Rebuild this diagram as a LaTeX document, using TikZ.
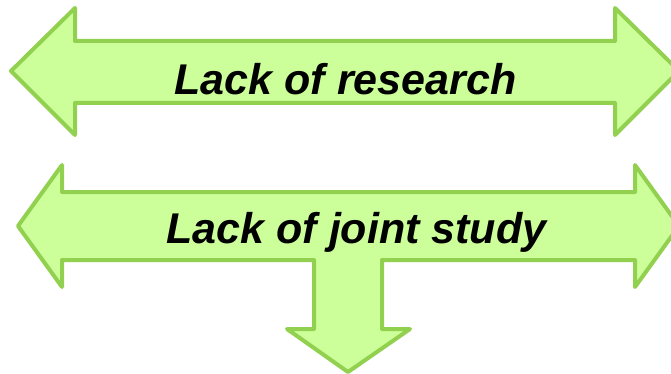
\documentclass[tikz,border=0pt]{standalone}
\usepackage{fontspec}
\setmainfont{Liberation Sans}
\definecolor{arrowfill}{HTML}{CCFF99}
\definecolor{arrowline}{HTML}{92D050}
\begin{document}
\begin{tikzpicture}[x=1pt,y=-1pt,
  arrowshape/.style={fill=arrowfill,draw=arrowline,line width=4pt,line join=round},
  label/.style={anchor=base,inner sep=0pt,font=\fontsize{43}{50}\selectfont\bfseries\itshape}]
\useasboundingbox (0,0) rectangle (671,374);
\draw[arrowshape] (11,71) -- (75,8) -- (75,41) -- (615,41) -- (615,8) -- (679,71)
  -- (615,135) -- (615,103) -- (75,103) -- (75,135) -- cycle;
\draw[arrowshape] (18,226) -- (62,165) -- (62,192) -- (635,192) -- (635,165) -- (679,226)
  -- (635,287) -- (635,260) -- (382,260) -- (382,329) -- (410,329) -- (348,372)
  -- (287,329) -- (314,329) -- (314,260) -- (62,260) -- (62,287) -- cycle;
\node[label] (research) at (345.5,94.5) {Lack of research};
\node[label] (joint) at (356.5,243) {Lack of joint study};
\end{tikzpicture}
\end{document}
